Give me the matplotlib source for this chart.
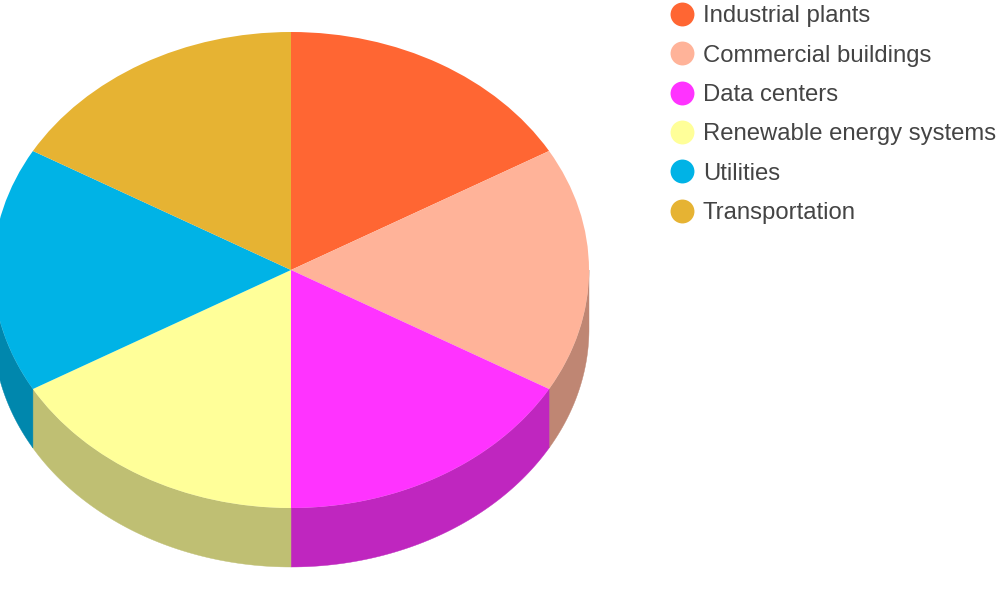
import numpy as np
import matplotlib
matplotlib.use('Agg')
import matplotlib.pyplot as plt
from matplotlib.lines import Line2D

plt.rcParams['font.family'] = ['Liberation Sans', 'DejaVu Sans']

labels = ['Industrial plants', 'Commercial buildings', 'Data centers',
          'Renewable energy systems', 'Utilities', 'Transportation']
values = [16.67, 16.67, 16.67, 16.67, 16.67, 16.67]
top_colors = ['#FF6633', '#FFB399', '#FF33FF', '#FFFF99', '#00B3E6', '#E6B333']
side_colors = ['#BF4D26', '#BF8673', '#BF26BF', '#BFBF73', '#0087AD', '#AD8726']

# pie geometry in pixels
cx, cy = 291, 270
rx, ry = 298, 238
depth = 59

fig = plt.figure(figsize=(10, 6), dpi=100)
ax = fig.add_axes([0, 0, 1, 1])

# side walls, only the front half of the rim shows
edges = 90 - np.cumsum([0] + values) / sum(values) * 360
d = depth / ry
for i in range(len(values)):
    a1, a2 = edges[i + 1], edges[i]
    lo = max(a1, -180)
    hi = min(a2, 0)
    if hi <= lo:
        # the slice may sit on the wrapped side of the circle
        lo, hi = max(a1, -180 - 360), min(a2, -360)
        if hi <= lo:
            continue
    t = np.radians(np.linspace(lo, hi, 60))
    xs = np.concatenate([np.cos(t), np.cos(t[::-1])])
    ys = np.concatenate([np.sin(t), np.sin(t[::-1]) - d])
    ax.fill(xs, ys, color=side_colors[i], lw=0.3, zorder=1)

ax.pie(values, colors=top_colors, startangle=90, counterclock=False,
       radius=1, wedgeprops={'linewidth': 0.3, 'zorder': 2}, normalize=True)

# stretch the circle to an ellipse, axes fill the whole figure
ax.set_aspect('auto')
ax.set_xlim(-cx / rx, (1000 - cx) / rx)
ax.set_ylim((cy - 600) / ry, cy / ry)
ax.axis('off')

handles = [Line2D([], [], ls='none', marker='o', ms=17.2, color=c, mew=0)
           for c in top_colors]
leg = ax.legend(handles, labels, loc='upper left', bbox_to_anchor=(0.6702, 0.991),
                bbox_transform=fig.transFigure, frameon=False, fontsize=17.2,
                labelcolor='#444444', handletextpad=0.37, handlelength=1.0,
                labelspacing=0.725, borderpad=0.0, borderaxespad=0.0)

fig.savefig('out.png', dpi=100)
